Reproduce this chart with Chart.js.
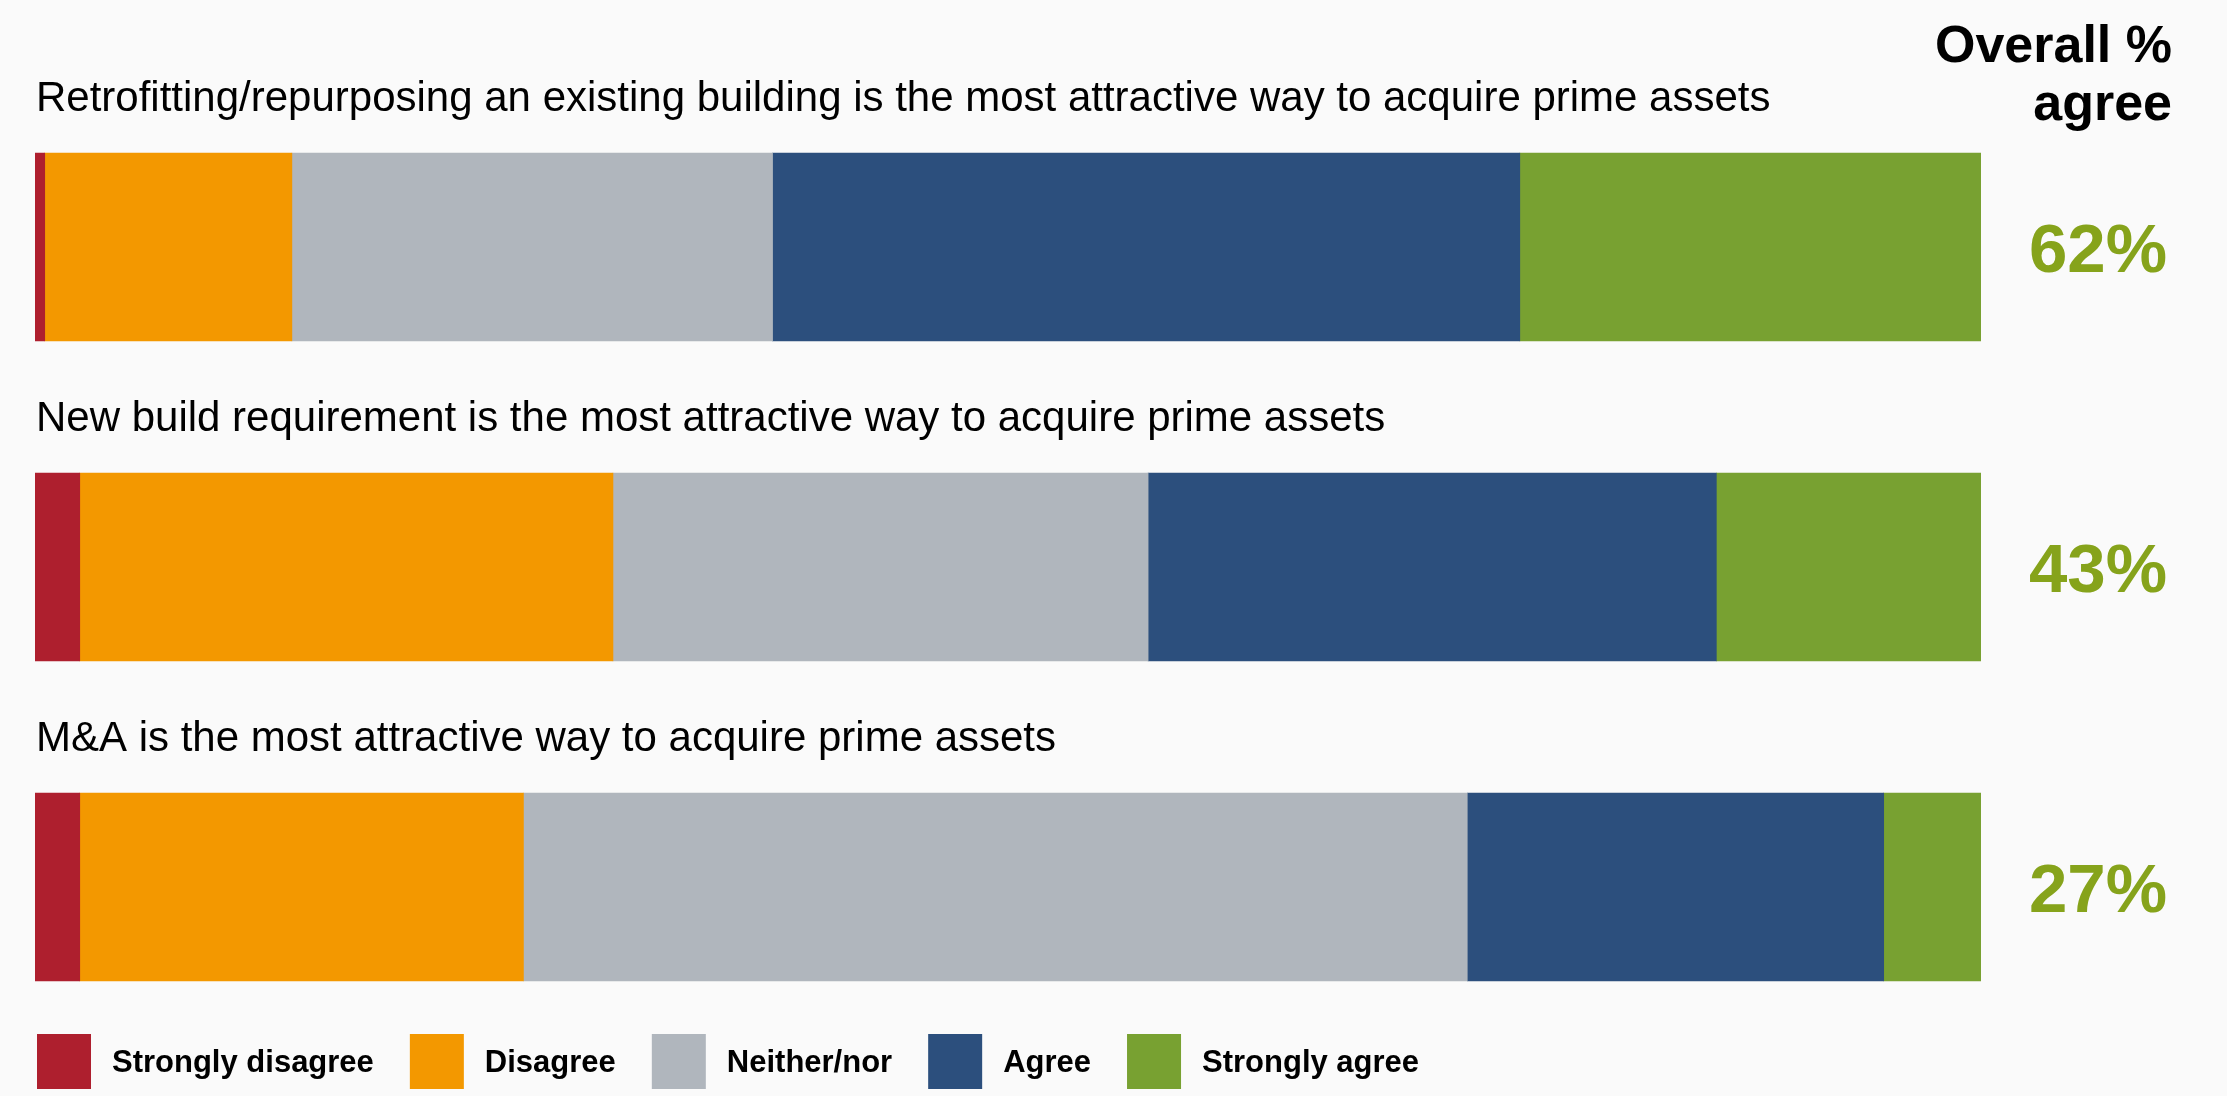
<!DOCTYPE html>
<html>
<head>
<meta charset="utf-8">
<script src="https://cdn.jsdelivr.net/npm/chart.js@4"></script>
<style>
html,body{margin:0;background:#fafafa}
canvas{display:block}
</style>
</head>
<body>
<canvas id="chart" width="2227" height="1096"></canvas>
<script>
// survey statements (one bar each)
const questions=[
    "Retrofitting/repurposing an existing building is the most attractive way to acquire prime assets",
    "New build requirement is the most attractive way to acquire prime assets",
    "M&A is the most attractive way to acquire prime assets"
];

const seriesNames=["Strongly disagree","Disagree","Neither/nor","Agree","Strongly agree"];

// % of respondents
const stronglyDisagree=[0.5,2.3,2.3];
const disagree=[12.7,27.4,22.8];
const neither=[24.7,27.5,48.5];
const agree=[38.4,29.2,21.4];
const stronglyAgree=[23.7,13.6,5.0];

const overallAgree=["62%","43%","27%"];

const colours=["#ae1f2e","#f39800","#b0b6bd","#2c4f7d","#78a131"];
const pctColour="#86a31b";
const FONT="'Liberation Sans', Arial, Helvetica, sans-serif";

const values=[stronglyDisagree,disagree,neither,agree,stronglyAgree];

// texts round the bars + legend
const overlay={
    id:"overlay",
    afterDraw(chart){
        const ctx=chart.ctx;
        const y=chart.scales.y;
        const half=188/2;
        ctx.save();
        ctx.textAlign="left";
        ctx.textBaseline="alphabetic";

        questions.forEach((q,i)=>{
            const c=y.getPixelForValue(i);
            ctx.fillStyle="#000";
            ctx.font="42px "+FONT;
            ctx.fillText(q,36,c-half-42);

            ctx.fillStyle=pctColour;
            ctx.font="bold 69px "+FONT;
            ctx.fillText(overallAgree[i],2029,c+25);
        });

        // header
        ctx.fillStyle="#000";
        ctx.textAlign="right";
        ctx.font="bold 52px "+FONT;
        ctx.fillText("Overall %",2172,62);
        ctx.fillText("agree",2172,120);

        // legend
        ctx.textAlign="left";
        ctx.font="bold 31px "+FONT;
        let x=37;
        seriesNames.forEach((n,i)=>{
            ctx.fillStyle=colours[i];
            ctx.fillRect(x,1034,54,55);
            x+=54+21;
            ctx.fillStyle="#000";
            ctx.fillText(n,x,1072);
            x+=ctx.measureText(n).width+36;
        });
        ctx.restore();
    }
};

new Chart(document.getElementById("chart"),{
    type:"bar",
    data:{
        labels:questions,
        datasets:seriesNames.map((n,i)=>({
            label:n,
            data:values[i],
            backgroundColor:colours[i],
            borderWidth:0,
            barThickness:188
        }))
    },
    options:{
        indexAxis:"y",
        responsive:false,
        animation:false,
        layout:{padding:{left:35,right:246,top:87,bottom:49}},
        scales:{
            x:{stacked:true,min:0,max:100,display:false},
            y:{stacked:true,display:false}
        },
        plugins:{
            legend:{display:false},
            tooltip:{enabled:false}
        }
    },
    plugins:[overlay]
});
</script>
</body>
</html>
